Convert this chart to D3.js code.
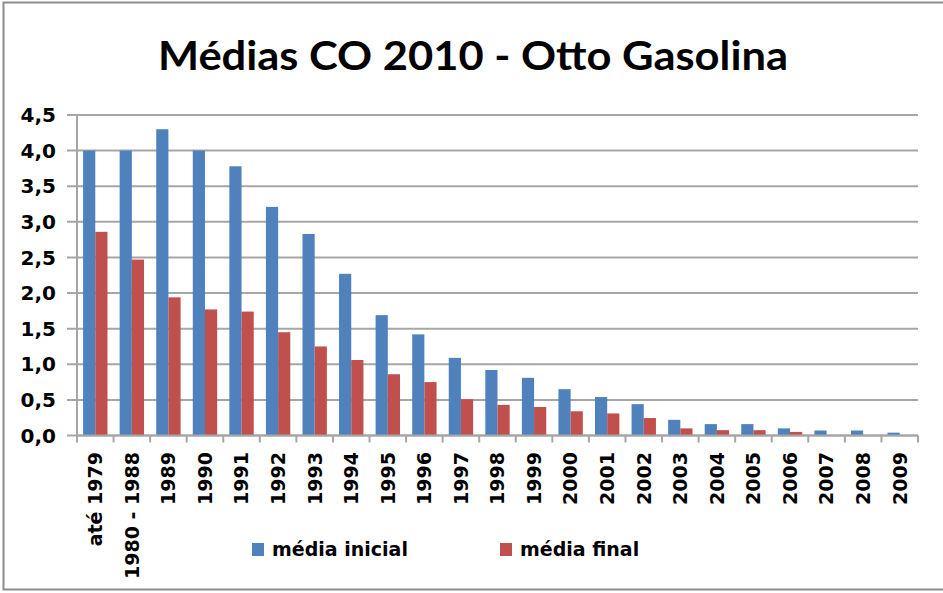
<!DOCTYPE html>
<html><head><meta charset="utf-8">
<script src="https://cdnjs.cloudflare.com/ajax/libs/d3/7.8.5/d3.min.js"></script>
<style>body{margin:0;background:#fff}svg{display:block}</style>
</head><body><svg id="c" width="943" height="593"></svg>
<script>
const title = "Médias CO 2010 - Otto Gasolina";
const categories = ["até 1979","1980 - 1988","1989","1990","1991","1992","1993","1994","1995","1996","1997","1998","1999","2000","2001","2002","2003","2004","2005","2006","2007","2008","2009"];
const seriesNames = ["média inicial","média final"];
const mediaInicial = [4.0,4.0,4.3,4.0,3.78,3.21,2.83,2.27,1.69,1.42,1.09,0.92,0.81,0.65,0.54,0.44,0.22,0.16,0.16,0.10,0.07,0.07,0.04];
const mediaFinal = [2.86,2.47,1.94,1.77,1.74,1.45,1.25,1.06,0.86,0.75,0.51,0.43,0.40,0.34,0.31,0.245,0.10,0.075,0.075,0.05,0,0,0];
const yTicks = [0,0.5,1.0,1.5,2.0,2.5,3.0,3.5,4.0,4.5];
const colors = ["#4F81BD","#C0504D"];

const svg = d3.select("#c");
svg.append("rect").attr("x",3.5).attr("y",2.5).attr("width",948).attr("height",587)
  .attr("fill","#fff").attr("stroke","#8c8c8c").attr("stroke-width",2);

svg.append("text").attr("x",473).attr("y",70).attr("text-anchor","middle")
  .attr("font-family","Lato, 'Open Sans', sans-serif").attr("font-weight","bold")
  .attr("font-size",41).attr("textLength",630).attr("lengthAdjust","spacingAndGlyphs")
  .attr("fill","#000").text(title);

const pLeft = 77, pRight = 918, pTop = 115, pBottom = 435.5;
const x0 = d3.scaleBand().domain(categories).range([pLeft,pRight]).padding(0);
const bw = x0.bandwidth();
const x1 = d3.scaleBand().domain(seriesNames).range([bw/6, bw*5/6]).padding(0);
const y = d3.scaleLinear().domain([0,4.5]).range([pBottom,pTop]);

// gridlines
svg.append("g").selectAll("line").data(yTicks).join("line")
  .attr("x1",67).attr("x2",pRight).attr("y1",d=>y(d)).attr("y2",d=>y(d))
  .attr("stroke","#a6a6a6").attr("stroke-width",2);

// y axis line
svg.append("line").attr("x1",pLeft).attr("x2",pLeft).attr("y1",pTop).attr("y2",pBottom)
  .attr("stroke","#a6a6a6").attr("stroke-width",2);

// y labels
svg.append("g").selectAll("text").data(yTicks).join("text")
  .attr("x",56).attr("y",d=>y(d)).attr("dy","0.36em").attr("text-anchor","end")
  .attr("font-family","DejaVu Sans").attr("font-weight","bold").attr("font-size",20)
  .attr("fill","#000").text(d=>d.toFixed(1).replace(".",","));

// bars
const data = categories.map((c,i)=>({c, vals:[mediaInicial[i],mediaFinal[i]]}));
const g = svg.append("g");
g.selectAll("g").data(data).join("g").attr("transform",d=>`translate(${x0(d.c)},0)`)
  .selectAll("rect").data(d=>d.vals.map((v,k)=>({k,v}))).join("rect")
  .attr("x",d=>x1(seriesNames[d.k])).attr("width",x1.bandwidth())
  .attr("y",d=>y(d.v)).attr("height",d=>pBottom-y(d.v))
  .attr("fill",d=>colors[d.k]);

// x axis
svg.append("line").attr("x1",pLeft).attr("x2",pRight).attr("y1",pBottom).attr("y2",pBottom)
  .attr("stroke","#a6a6a6").attr("stroke-width",2);
const bounds = categories.map(c=>x0(c)).concat([pRight]);
svg.append("g").selectAll("line").data(bounds).join("line")
  .attr("x1",d=>d).attr("x2",d=>d).attr("y1",pBottom).attr("y2",pBottom+7)
  .attr("stroke","#a6a6a6").attr("stroke-width",2);

svg.append("g").selectAll("text").data(categories).join("text")
  .attr("transform",d=>`translate(${x0(d)+bw/2},452) rotate(-90)`)
  .attr("dy","0.36em").attr("text-anchor","end")
  .attr("font-family","DejaVu Sans").attr("font-weight","bold").attr("font-size",19)
  .attr("fill","#000").text(d=>d);

// legend
const legX = [252, 500];
const lg = svg.append("g").selectAll("g").data(seriesNames).join("g")
  .attr("transform",(d,i)=>`translate(${legX[i]},543)`);
lg.append("rect").attr("width",12).attr("height",13).attr("fill",(d,i)=>colors[i]);
lg.append("text").attr("x",20).attr("y",6.5).attr("dy","0.36em")
  .attr("font-family","DejaVu Sans").attr("font-weight","bold").attr("font-size",19)
  .attr("fill","#000").text(d=>d);
</script></body></html>
